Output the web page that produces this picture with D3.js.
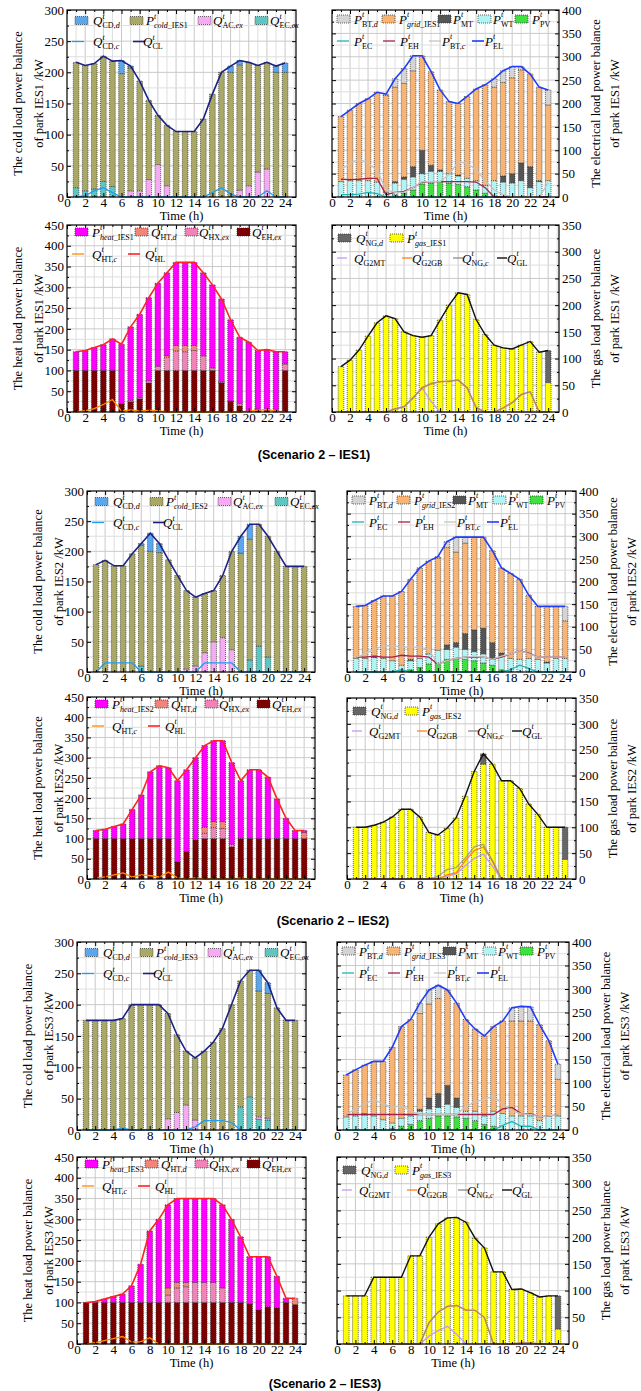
<!DOCTYPE html>
<html>
<head>
<meta charset="utf-8">
<script src="https://cdn.jsdelivr.net/npm/d3@7"></script>
<style>
  body { margin: 0; background: #fff; }
  svg text { font-family: "Liberation Serif", "Times New Roman", serif; }
</style>
</head>
<body>
<svg id="fig" width="641" height="1391"></svg>
<script>
// ---------- data ----------
var hours = [1,2,3,4,5,6,7,8,9,10,11,12,13,14,15,16,17,18,19,20,21,22,23,24];
var xTicks = [0,2,4,6,8,10,12,14,16,18,20,22,24];
var coldTicks = [0,50,100,150,200,250,300];
var elecTicks = [0,50,100,150,200,250,300,350,400];
var heatTicks = [0,50,100,150,200,250,300,350,400,450];
var gasTicks = [0,50,100,150,200,250,300,350];

// IES1
var ies1ColdECex = [15,10,13,25,17,0,0,0,0,0,0,0,0,0,0,0,0,0,0,0,0,0,0,0];
var ies1ColdACex = [0,0,0,0,0,0,10,10,28,52,18,0,0,0,0,0,0,0,11,18,40,45,0,0];
var ies1ColdP = [201,201,201,201,201,198,197,176,127,79,97,105,105,105,125,165,200,200,201,198,171,171,200,200];
var ies1ColdCDd = [0,0,0,0,0,21,3,0,0,0,0,0,0,0,0,0,0,10,7,0,0,0,10,15];
var ies1ColdCDc = [0,2,10,15,7,0,0,0,0,0,0,0,0,0,0,7,15,5,0,0,0,10,0,0];
var ies1ColdCL = [216,211,214,226,218,219,210,186,155,131,115,105,105,105,125,165,200,210,219,216,211,216,210,215];

var ies1ElecPV = [0,0,0,0,0,0,5,8,15,28,30,33,30,27,22,15,8,0,0,0,0,0,0,0];
var ies1ElecWT = [33,35,35,35,32,10,25,30,28,22,25,22,20,18,18,20,17,35,32,30,35,20,33,35];
var ies1ElecMT = [0,0,0,0,0,0,3,5,22,50,13,3,0,2,0,0,0,0,13,20,38,45,2,0];
var ies1ElecGrid = [139,151,165,175,192,207,202,200,205,202,200,171,154,153,175,196,215,200,200,205,199,198,200,162];
var ies1ElecBTd = [0,0,0,0,0,3,18,32,32,0,0,0,0,0,0,0,0,18,25,24,7,0,0,32];
var ies1ElecEC = [5,5,6,10,7,0,0,0,0,0,0,0,0,0,0,0,0,0,0,0,0,0,0,0];
var ies1ElecEH = [38,37,38,40,40,5,10,12,20,32,33,33,33,33,33,32,20,0,0,0,0,0,0,0];
var ies1ElecBTc = [58,72,82,72,58,15,10,10,20,33,33,33,48,75,72,58,35,15,5,0,0,0,0,30];
var ies1ElecEL = [172,186,200,210,224,220,253,275,302,302,268,229,204,200,215,231,240,253,270,279,279,263,235,229];

var ies1HeatEHex = [100,100,100,100,100,20,25,32,70,100,100,100,100,100,100,100,70,27,15,2,5,5,3,100];
var ies1HeatHXex = [0,0,0,0,0,0,3,3,5,10,32,47,45,48,35,6,2,0,5,0,2,2,0,15];
var ies1HeatHTd = [0,0,0,0,0,0,0,0,0,0,4,13,15,12,0,0,0,0,0,0,0,0,0,2];
var ies1HeatP = [45,48,55,62,76,143,177,200,200,200,199,200,200,200,200,200,200,195,160,166,141,143,142,28];
var ies1HeatHTc = [0,3,8,18,30,2,5,2,4,3,0,0,0,0,0,0,0,0,0,2,4,6,2,0];
var ies1HeatHL = [145,148,155,162,176,163,205,235,275,310,335,360,360,360,335,306,272,222,180,168,148,150,145,145];

var ies1GasP = [85,97,116,142,167,180,175,150,143,140,143,172,200,223,220,173,145,125,120,118,125,132,112,55];
var ies1GasNGd = [0,0,0,0,0,0,0,0,0,0,0,0,0,0,0,0,0,0,0,0,0,0,0,60];
var ies1GasG2MT = [0,0,0,0,0,0,6,10,26,45,20,0,0,0,0,0,0,0,0,0,0,0,0,0];
var ies1GasG2GB = [0,0,0,0,0,0,6,10,26,46,52,57,57,60,45,8,0,0,8,18,32,38,0,0];
var ies1GasNGc = [0,0,0,0,0,0,6,10,27,44,54,57,58,60,46,9,0,0,7,17,33,38,0,0];
var ies1GasGL = [85,97,116,142,167,180,175,150,143,140,143,172,200,223,220,173,145,125,120,118,125,132,112,115];

// IES2
var ies2ColdECex = [0,0,0,0,0,10,0,0,0,0,0,0,0,0,0,0,0,20,43,25,0,0,0,0];
var ies2ColdACex = [0,0,0,0,0,0,0,0,0,0,5,10,32,50,57,37,0,0,0,0,0,0,0,0];
var ies2ColdP = [178,185,176,176,196,200,200,198,186,160,130,114,98,85,103,163,197,200,202,200,200,175,175,175];
var ies2ColdCDd = [0,0,0,0,0,3,30,15,0,0,0,0,0,0,0,0,28,25,0,0,0,0,0,0];
var ies2ColdCDc = [0,15,15,15,15,0,0,0,0,0,0,0,15,15,15,15,0,0,0,0,0,0,0,0];
var ies2ColdCL = [178,185,176,176,196,213,230,213,186,160,135,124,130,135,160,200,225,245,245,225,200,175,175,175];

var ies2ElecPV = [0,0,0,0,0,3,5,10,18,20,28,30,28,25,20,15,5,0,0,0,0,0,0,0];
var ies2ElecWT = [30,30,32,30,25,12,20,20,22,28,22,25,22,20,20,15,30,30,28,30,28,20,30,30];
var ies2ElecMT = [0,0,3,0,0,0,3,0,0,0,10,10,35,48,57,35,7,0,0,0,0,2,0,0];
var ies2ElecGrid = [115,117,123,138,143,163,177,200,205,204,215,200,200,205,201,203,188,188,177,140,117,123,115,83];
var ies2ElecBTd = [0,0,0,0,0,0,0,0,0,3,13,33,13,0,0,0,0,0,0,0,0,0,0,32];
var ies2ElecEC = [0,0,0,0,0,5,0,0,0,0,0,0,0,0,0,0,0,5,15,8,0,0,0,0];
var ies2ElecEH = [33,33,35,33,33,37,35,35,33,17,25,30,33,33,33,28,33,40,47,42,33,33,33,33];
var ies2ElecBTc = [33,40,50,58,58,55,55,55,50,17,25,30,33,35,33,28,35,40,47,40,33,33,33,33];
var ies2ElecEL = [145,147,158,168,168,178,205,230,245,255,288,298,298,298,298,268,230,218,205,170,145,145,145,145];

var ies2HeatEHex = [100,100,100,100,100,100,100,100,100,42,68,97,100,100,100,80,100,100,100,100,100,100,100,100];
var ies2HeatHXex = [0,0,0,0,0,0,0,0,0,0,0,0,13,27,25,5,0,0,0,0,0,0,0,0];
var ies2HeatHTd = [0,0,0,0,0,0,0,0,0,0,0,0,15,15,17,0,0,0,0,0,0,0,0,15];
var ies2HeatP = [20,23,30,36,72,108,165,180,175,201,202,203,202,200,200,203,143,170,170,152,98,50,20,5];
var ies2HeatHTc = [2,5,10,15,5,10,8,5,17,3,0,3,0,0,0,0,2,0,0,0,0,0,0,0];
var ies2HeatHL = [120,123,130,136,172,208,265,280,275,243,270,300,330,342,342,288,243,270,270,252,198,150,120,120];

var ies2GasP = [100,100,104,110,120,135,135,120,90,85,98,118,160,208,222,222,190,190,175,145,125,100,100,38];
var ies2GasNGd = [0,0,0,0,0,0,0,0,0,0,0,0,0,0,20,0,0,0,0,0,0,0,0,62];
var ies2GasG2MT = [0,0,0,0,0,0,0,0,0,0,5,10,25,40,48,25,0,0,0,0,0,0,0,0];
var ies2GasG2GB = [0,0,0,0,0,0,0,0,0,0,8,12,35,55,62,35,0,0,0,0,0,0,0,0];
var ies2GasNGc = [0,0,0,0,0,0,0,0,0,5,18,22,40,62,67,35,0,0,0,0,0,0,0,0];
var ies2GasGL = [100,100,104,110,120,135,135,120,90,85,98,118,160,208,242,222,190,190,175,145,125,100,100,100];

// IES3
var ies3ColdECex = [0,0,0,0,0,0,0,0,0,0,0,0,0,0,0,0,0,37,53,17,16,0,0,0];
var ies3ColdACex = [0,0,0,0,0,0,0,0,0,18,28,40,16,0,0,0,0,0,0,4,3,0,0,0];
var ies3ColdP = [175,175,175,175,178,200,200,200,200,168,124,86,99,126,140,162,200,201,202,201,199,195,175,175];
var ies3ColdCDd = [0,0,0,0,0,0,0,0,0,0,0,0,0,0,0,0,0,0,0,33,17,0,0,0];
var ies3ColdCDc = [0,0,0,0,3,0,0,0,0,0,0,0,5,15,15,15,12,0,0,0,0,0,0,0];
var ies3ColdCL = [175,175,175,175,178,200,200,200,200,186,152,126,115,126,140,162,200,238,255,255,235,195,175,175];

var ies3ElecPV = [0,0,0,0,0,3,8,12,20,25,30,30,28,25,20,12,8,0,0,0,0,0,0,0];
var ies3ElecWT = [28,30,32,30,22,12,17,18,20,20,18,25,20,15,20,18,32,35,30,30,30,20,30,30];
var ies3ElecMT = [0,0,3,0,0,0,0,0,4,23,30,40,20,0,0,0,0,0,0,0,0,0,0,0];
var ies3ElecGrid = [89,98,103,116,124,161,195,205,204,200,202,203,202,195,175,170,180,197,202,202,202,204,160,78];
var ies3ElecBTd = [0,0,0,0,0,0,0,0,22,30,28,0,0,0,0,0,0,0,28,31,30,0,0,32];
var ies3ElecEC = [0,0,0,0,0,0,0,0,0,0,0,0,0,0,0,0,0,10,18,8,8,0,0,0];
var ies3ElecEH = [33,33,33,33,33,33,33,33,33,33,33,33,33,33,33,33,33,45,48,35,35,28,30,32];
var ies3ElecBTc = [33,45,55,65,55,48,52,40,33,33,33,33,33,50,60,65,72,55,40,35,33,28,30,32];
var ies3ElecEL = [117,128,138,146,146,176,220,235,270,298,308,298,270,235,215,200,220,232,260,263,262,224,190,140];

var ies3HeatEHex = [100,100,100,100,100,100,100,100,100,100,100,100,100,100,100,100,100,100,97,82,90,87,100,95];
var ies3HeatHXex = [0,0,0,0,0,0,0,0,0,18,35,38,48,48,48,35,0,0,0,0,0,0,0,0];
var ies3HeatHTd = [0,0,0,0,0,0,0,0,0,17,13,10,0,0,0,0,0,0,0,0,0,0,0,15];
var ies3HeatP = [0,2,8,14,20,40,92,172,200,200,202,202,202,202,202,200,200,158,113,128,120,76,10,0];
var ies3HeatHTc = [0,3,8,13,18,5,5,15,0,0,0,0,0,0,0,0,0,0,0,0,0,0,0,0];
var ies3HeatHL = [100,102,108,114,120,140,192,272,300,335,350,350,350,350,350,335,300,258,210,210,210,163,110,110];

var ies3GasP = [90,90,90,125,125,125,125,165,165,200,225,236,237,228,198,180,135,135,102,103,96,88,90,28];
var ies3GasNGd = [0,0,0,0,0,0,0,0,0,0,0,0,0,0,0,0,0,0,0,0,0,0,0,62];
var ies3GasG2MT = [0,0,0,0,0,0,0,0,0,15,25,33,18,0,0,0,0,0,0,0,0,0,0,0];
var ies3GasG2GB = [0,0,0,0,0,0,0,0,0,40,60,70,72,63,63,50,0,0,0,2,2,0,0,0];
var ies3GasNGc = [0,0,0,0,0,0,0,0,0,40,60,71,72,64,63,50,0,0,0,2,2,0,0,0];
var ies3GasGL = [90,90,90,125,125,125,125,165,165,200,225,236,237,228,198,180,135,135,102,103,96,88,90,90];

// ---------- colours ----------
var colors = {
  CDd: "#5aa7ee", cold: "#aaa866", ACex: "#f4abf2", ECex: "#5ec5c1", CDc: "#1f9cf2", CL: "#1b2284",
  BTd: "#d4d4d4", grid: "#f8b474", MT: "#555555", WT: "#b2f4f4", PV: "#3ee23e",
  EC: "#1fb3b3", EH: "#a3204c", BTc: "#c4c4c4", EL: "#1f3dfa",
  heat: "#ff00ff", HTd: "#f2857a", HXex: "#f283b8", EHex: "#7d0000", HTc: "#ff8c00", HL: "#ff2222",
  NGd: "#666666", gas: "#ffff00", G2MT: "#c39af2", G2GB: "#ff7f27", NGc: "#8c8c8c", GL: "#111111"
};

// legend layout per panel kind: swatch / label offsets from the frame's left edge
var legendLayout = {
  cold: { rows: [10.5, 31.5], sw: [8, 63, 131, 188], lab: [26, 79, 146, 203], ln: [5, 66], lnLab: [26, 76], lnLen: 12 },
  elec: { rows: [9, 31], sw: [5, 50, 106, 146, 183], lab: [22, 67, 121, 161, 200], ln: [5, 51, 97, 140], lnLab: [22, 68, 110, 153], lnLen: 12 },
  heat: { rows: [7, 29], sw: [8, 68, 118, 170], lab: [25, 84, 132, 185], ln: [5, 61], lnLab: [25, 78], lnLen: 12 },
  gas: { rows: [13, 33], sw: [6, 58], lab: [24, 75], ln: [5, 70, 121, 165], lnLab: [22, 80, 130, 175], lnLen: 10 }
};

var svg = d3.select("#fig");

function coldPanel(ies, box, ec, ac, p, cdd, cdc, cl) {
  return {
    box: box, ymax: 300, ticks: coldTicks, side: "left", kind: "cold",
    ylabel: ["The cold load power balance", "of park " + ies + " /kW"],
    stack: [
      { key: "ECex", values: ec, label: ["Q", [["EC,", 0], ["ex", 1]]] },
      { key: "ACex", values: ac, label: ["Q", [["AC,", 0], ["ex", 1]]] },
      { key: "cold", values: p, label: ["P", [["cold", 1], ["_" + ies, 0]]] },
      { key: "CDd", values: cdd, label: ["Q", [["CD,", 0], ["d", 1]]] }
    ],
    lines: [
      { key: "CDc", values: cdc, width: 1.3, label: ["Q", [["CD,", 0], ["c", 1]]] },
      { key: "CL", values: cl, width: 1.6, label: ["Q", [["CL", 0]]] }
    ]
  };
}

function elecPanel(ies, box, pv, wt, mt, grid, btd, ec, eh, btc, el) {
  return {
    box: box, ymax: 400, ticks: elecTicks, side: "right", kind: "elec",
    ylabel: ["The electrical load power balance", "of park " + ies + " /kW"],
    stack: [
      { key: "PV", values: pv, label: ["P", [["PV", 0]]] },
      { key: "WT", values: wt, label: ["P", [["WT", 0]]] },
      { key: "MT", values: mt, label: ["P", [["MT", 0]]] },
      { key: "grid", values: grid, label: ["P", [["grid", 1], ["_" + ies, 0]]] },
      { key: "BTd", values: btd, label: ["P", [["BT,", 0], ["d", 1]]] }
    ],
    lines: [
      { key: "EC", values: ec, width: 1.3, label: ["P", [["EC", 0]]] },
      { key: "EH", values: eh, width: 1.3, label: ["P", [["EH", 0]]] },
      { key: "BTc", values: btc, width: 1.3, label: ["P", [["BT,", 0], ["c", 1]]] },
      { key: "EL", values: el, width: 1.6, label: ["P", [["EL", 0]]] }
    ]
  };
}

function heatPanel(ies, box, eh, hx, htd, p, htc, hl) {
  return {
    box: box, ymax: 450, ticks: heatTicks, side: "left", kind: "heat",
    ylabel: ["The heat load power balance", "of park " + ies + " /kW"],
    stack: [
      { key: "EHex", values: eh, label: ["Q", [["EH,", 0], ["ex", 1]]] },
      { key: "HXex", values: hx, label: ["Q", [["HX,", 0], ["ex", 1]]] },
      { key: "HTd", values: htd, label: ["Q", [["HT,", 0], ["d", 1]]] },
      { key: "heat", values: p, label: ["P", [["heat", 1], ["_" + ies, 0]]] }
    ],
    lines: [
      { key: "HTc", values: htc, width: 1.3, label: ["Q", [["HT,", 0], ["c", 1]]] },
      { key: "HL", values: hl, width: 1.6, label: ["Q", [["HL", 0]]] }
    ]
  };
}

function gasPanel(ies, box, p, ngd, g2mt, g2gb, ngc, gl) {
  return {
    box: box, ymax: 350, ticks: gasTicks, side: "right", kind: "gas",
    ylabel: ["The gas load power balance", "of park " + ies + " /kW"],
    stack: [
      { key: "gas", values: p, label: ["P", [["gas", 1], ["_" + ies, 0]]] },
      { key: "NGd", values: ngd, label: ["Q", [["NG,", 0], ["d", 1]]] }
    ],
    lines: [
      { key: "G2MT", values: g2mt, width: 1.3, label: ["Q", [["G2MT", 0]]] },
      { key: "G2GB", values: g2gb, width: 1.3, label: ["Q", [["G2GB", 0]]] },
      { key: "NGc", values: ngc, width: 1.3, opacity: 0.75, label: ["Q", [["NG,", 0], ["c", 1]]] },
      { key: "GL", values: gl, width: 1.4, label: ["Q", [["GL", 0]]] }
    ]
  };
}

function drawLabel(g, x, y, lab) {
  g.append("text").attr("x", x).attr("y", y + 4.5)
    .attr("font-size", 13).attr("font-style", "italic").text(lab[0]);
  var w = lab[0] === "Q" ? 9.5 : 8;
  g.append("text").attr("x", x + w).attr("y", y - 2)
    .attr("font-size", 8).attr("font-style", "italic").text("t");
  var s = g.append("text").attr("x", x + w).attr("y", y + 7.5).attr("font-size", 8);
  lab[1].forEach(function(part) {
    s.append("tspan").attr("font-style", part[1] ? "italic" : "normal").text(part[0]);
  });
}

function drawPanel(p) {
  var b = p.box;
  var g = svg.append("g");
  var x = d3.scaleLinear().domain([0, 25.2]).range([b.l, b.r]);
  var y = d3.scaleLinear().domain([0, p.ymax]).range([b.b, b.t]);

  // grid
  g.append("g").selectAll("line").data(d3.range(1, 26)).enter().append("line")
    .attr("x1", function(d) { return x(d); }).attr("x2", function(d) { return x(d); })
    .attr("y1", b.t).attr("y2", b.b)
    .attr("stroke", function(d) { return d % 2 === 0 ? "#c9c9c9" : "#dedede"; })
    .attr("stroke-width", 1);
  g.append("g").selectAll("line").data(d3.range(25, p.ymax, 25)).enter().append("line")
    .attr("x1", b.l).attr("x2", b.r)
    .attr("y1", function(d) { return y(d); }).attr("y2", function(d) { return y(d); })
    .attr("stroke", function(d) { return d % 50 === 0 ? "#c9c9c9" : "#dedede"; })
    .attr("stroke-width", 1);

  // stacked bars
  var table = hours.map(function(h, i) {
    var row = { hour: h };
    p.stack.forEach(function(s) { row[s.key] = s.values[i]; });
    return row;
  });
  var series = d3.stack().keys(p.stack.map(function(s) { return s.key; }))(table);
  var bw = (x(1) - x(0)) * 0.62;
  g.append("g").selectAll("g").data(series).enter().append("g")
    .attr("fill", function(s) { return colors[s.key]; })
    .selectAll("rect")
    .data(function(s) { return s.filter(function(d) { return d[1] - d[0] > 0; }); })
    .enter().append("rect")
      .attr("x", function(d) { return x(d.data.hour) - bw / 2; })
      .attr("y", function(d) { return y(d[1]); })
      .attr("width", bw)
      .attr("height", function(d) { return y(d[0]) - y(d[1]); })
      .attr("stroke", "#2a2a2a")
      .attr("stroke-width", 0.7)
      .attr("stroke-dasharray", "1,1");

  // lines
  p.lines.forEach(function(ln) {
    var line = d3.line()
      .x(function(d, i) { return x(hours[i]); })
      .y(function(d) { return y(d); });
    g.append("path").datum(ln.values)
      .attr("d", line)
      .attr("fill", "none")
      .attr("stroke", colors[ln.key])
      .attr("stroke-width", ln.width)
      .attr("stroke-opacity", ln.opacity || 1);
  });

  // axes (ticks pointing inward)
  var minorY = d3.range(25, p.ymax, 50);
  var labelSide = p.side === "left" ? b.l : b.r;
  var otherSide = p.side === "left" ? b.r : b.l;
  var mainAxis = p.side === "left" ? d3.axisLeft(y) : d3.axisRight(y);
  var otherAxis = p.side === "left" ? d3.axisRight(y) : d3.axisLeft(y);

  var ya = g.append("g").attr("transform", "translate(" + labelSide + ",0)")
    .call(mainAxis.tickValues(p.ticks).tickSize(-4).tickPadding(3));
  ya.select(".domain").remove();
  ya.selectAll("text").attr("font-family", "Liberation Serif").attr("font-size", 13).attr("fill", "#000");

  g.append("g").attr("transform", "translate(" + labelSide + ",0)")
    .call((p.side === "left" ? d3.axisLeft(y) : d3.axisRight(y)).tickValues(minorY).tickSize(-2).tickFormat(""))
    .select(".domain").remove();
  g.append("g").attr("transform", "translate(" + otherSide + ",0)")
    .call(otherAxis.tickValues(p.ticks).tickSize(-4).tickFormat(""))
    .select(".domain").remove();
  g.append("g").attr("transform", "translate(" + otherSide + ",0)")
    .call((p.side === "left" ? d3.axisRight(y) : d3.axisLeft(y)).tickValues(minorY).tickSize(-2).tickFormat(""))
    .select(".domain").remove();

  var xa = g.append("g").attr("transform", "translate(0," + b.b + ")")
    .call(d3.axisBottom(x).tickValues(xTicks).tickSize(-4).tickPadding(1));
  xa.select(".domain").remove();
  xa.selectAll("text").attr("font-family", "Liberation Serif").attr("font-size", 13).attr("fill", "#000");
  g.append("g").attr("transform", "translate(0," + b.b + ")")
    .call(d3.axisBottom(x).tickValues(d3.range(1, 25, 2)).tickSize(-2).tickFormat(""))
    .select(".domain").remove();
  g.append("g").attr("transform", "translate(0," + b.t + ")")
    .call(d3.axisTop(x).tickValues(xTicks).tickSize(-4).tickFormat(""))
    .select(".domain").remove();
  g.append("g").attr("transform", "translate(0," + b.t + ")")
    .call(d3.axisTop(x).tickValues(d3.range(1, 25, 2)).tickSize(-2).tickFormat(""))
    .select(".domain").remove();

  // frame
  g.append("rect")
    .attr("x", b.l).attr("y", b.t)
    .attr("width", b.r - b.l).attr("height", b.b - b.t)
    .attr("fill", "none").attr("stroke", "#000").attr("stroke-width", 1.2);

  // axis titles
  g.append("text")
    .attr("x", (b.l + b.r) / 2).attr("y", b.b + 23)
    .attr("text-anchor", "middle").attr("font-size", 12.5)
    .text("Time (h)");
  var mid = (b.t + b.b) / 2;
  p.ylabel.forEach(function(t, i) {
    var lx = p.side === "left" ? b.l - 45 + 21 * i : b.r + 41 + 19 * i;
    g.append("text")
      .attr("transform", "translate(" + lx + "," + mid + ") rotate(-90)")
      .attr("text-anchor", "middle").attr("font-size", 12.5)
      .text(t);
  });

  // legend
  var lay = legendLayout[p.kind];
  var leg = g.append("g");
  p.stack.slice().reverse().forEach(function(s, i) {
    var ry = b.t + lay.rows[0];
    leg.append("rect")
      .attr("x", b.l + lay.sw[i]).attr("y", ry - 4)
      .attr("width", 13).attr("height", 8)
      .attr("fill", colors[s.key])
      .attr("stroke", "#2a2a2a").attr("stroke-width", 0.7).attr("stroke-dasharray", "1,1");
    drawLabel(leg, b.l + lay.lab[i], ry, s.label);
  });
  p.lines.forEach(function(ln, i) {
    var ry = b.t + lay.rows[1];
    leg.append("line")
      .attr("x1", b.l + lay.ln[i]).attr("x2", b.l + lay.ln[i] + lay.lnLen)
      .attr("y1", ry).attr("y2", ry)
      .attr("stroke", colors[ln.key]).attr("stroke-width", ln.width);
    drawLabel(leg, b.l + lay.lnLab[i], ry, ln.label);
  });
}

function scenarioLabel(text, cx, y) {
  svg.append("text")
    .attr("x", cx).attr("y", y)
    .attr("text-anchor", "middle")
    .style("font-family", "'Liberation Sans', Arial, sans-serif")
    .style("font-weight", "bold")
    .style("font-size", "12.5px")
    .text(text);
}

// ---------- IES1 ----------
drawPanel(coldPanel("IES1", { l: 67, r: 296, t: 10, b: 197 },
  ies1ColdECex, ies1ColdACex, ies1ColdP, ies1ColdCDd, ies1ColdCDc, ies1ColdCL));
drawPanel(elecPanel("IES1", { l: 332, r: 559, t: 10, b: 197 },
  ies1ElecPV, ies1ElecWT, ies1ElecMT, ies1ElecGrid, ies1ElecBTd, ies1ElecEC, ies1ElecEH, ies1ElecBTc, ies1ElecEL));
drawPanel(heatPanel("IES1", { l: 67, r: 296, t: 225, b: 412 },
  ies1HeatEHex, ies1HeatHXex, ies1HeatHTd, ies1HeatP, ies1HeatHTc, ies1HeatHL));
drawPanel(gasPanel("IES1", { l: 332, r: 559, t: 225, b: 412 },
  ies1GasP, ies1GasNGd, ies1GasG2MT, ies1GasG2GB, ies1GasNGc, ies1GasGL));
scenarioLabel("(Scenario 2 \u2013 IES1)", 314, 459);

// ---------- IES2 ----------
drawPanel(coldPanel("IES2", { l: 87, r: 315, t: 491, b: 672 },
  ies2ColdECex, ies2ColdACex, ies2ColdP, ies2ColdCDd, ies2ColdCDc, ies2ColdCL));
drawPanel(elecPanel("IES2", { l: 347, r: 576, t: 491, b: 672 },
  ies2ElecPV, ies2ElecWT, ies2ElecMT, ies2ElecGrid, ies2ElecBTd, ies2ElecEC, ies2ElecEH, ies2ElecBTc, ies2ElecEL));
drawPanel(heatPanel("IES2", { l: 87, r: 315, t: 697, b: 879 },
  ies2HeatEHex, ies2HeatHXex, ies2HeatHTd, ies2HeatP, ies2HeatHTc, ies2HeatHL));
drawPanel(gasPanel("IES2", { l: 347, r: 576, t: 698, b: 879 },
  ies2GasP, ies2GasNGd, ies2GasG2MT, ies2GasG2GB, ies2GasNGc, ies2GasGL));
scenarioLabel("(Scenario 2 \u2013 IES2)", 333, 925);

// ---------- IES3 ----------
drawPanel(coldPanel("IES3", { l: 77, r: 306, t: 942, b: 1130 },
  ies3ColdECex, ies3ColdACex, ies3ColdP, ies3ColdCDd, ies3ColdCDc, ies3ColdCL));
drawPanel(elecPanel("IES3", { l: 337, r: 569, t: 942, b: 1130 },
  ies3ElecPV, ies3ElecWT, ies3ElecMT, ies3ElecGrid, ies3ElecBTd, ies3ElecEC, ies3ElecEH, ies3ElecBTc, ies3ElecEL));
drawPanel(heatPanel("IES3", { l: 77, r: 306, t: 1157, b: 1344 },
  ies3HeatEHex, ies3HeatHXex, ies3HeatHTd, ies3HeatP, ies3HeatHTc, ies3HeatHL));
drawPanel(gasPanel("IES3", { l: 337, r: 569, t: 1157, b: 1344 },
  ies3GasP, ies3GasNGd, ies3GasG2MT, ies3GasG2GB, ies3GasNGc, ies3GasGL));
scenarioLabel("(Scenario 2 \u2013 IES3)", 325, 1388);
</script>
</body>
</html>
